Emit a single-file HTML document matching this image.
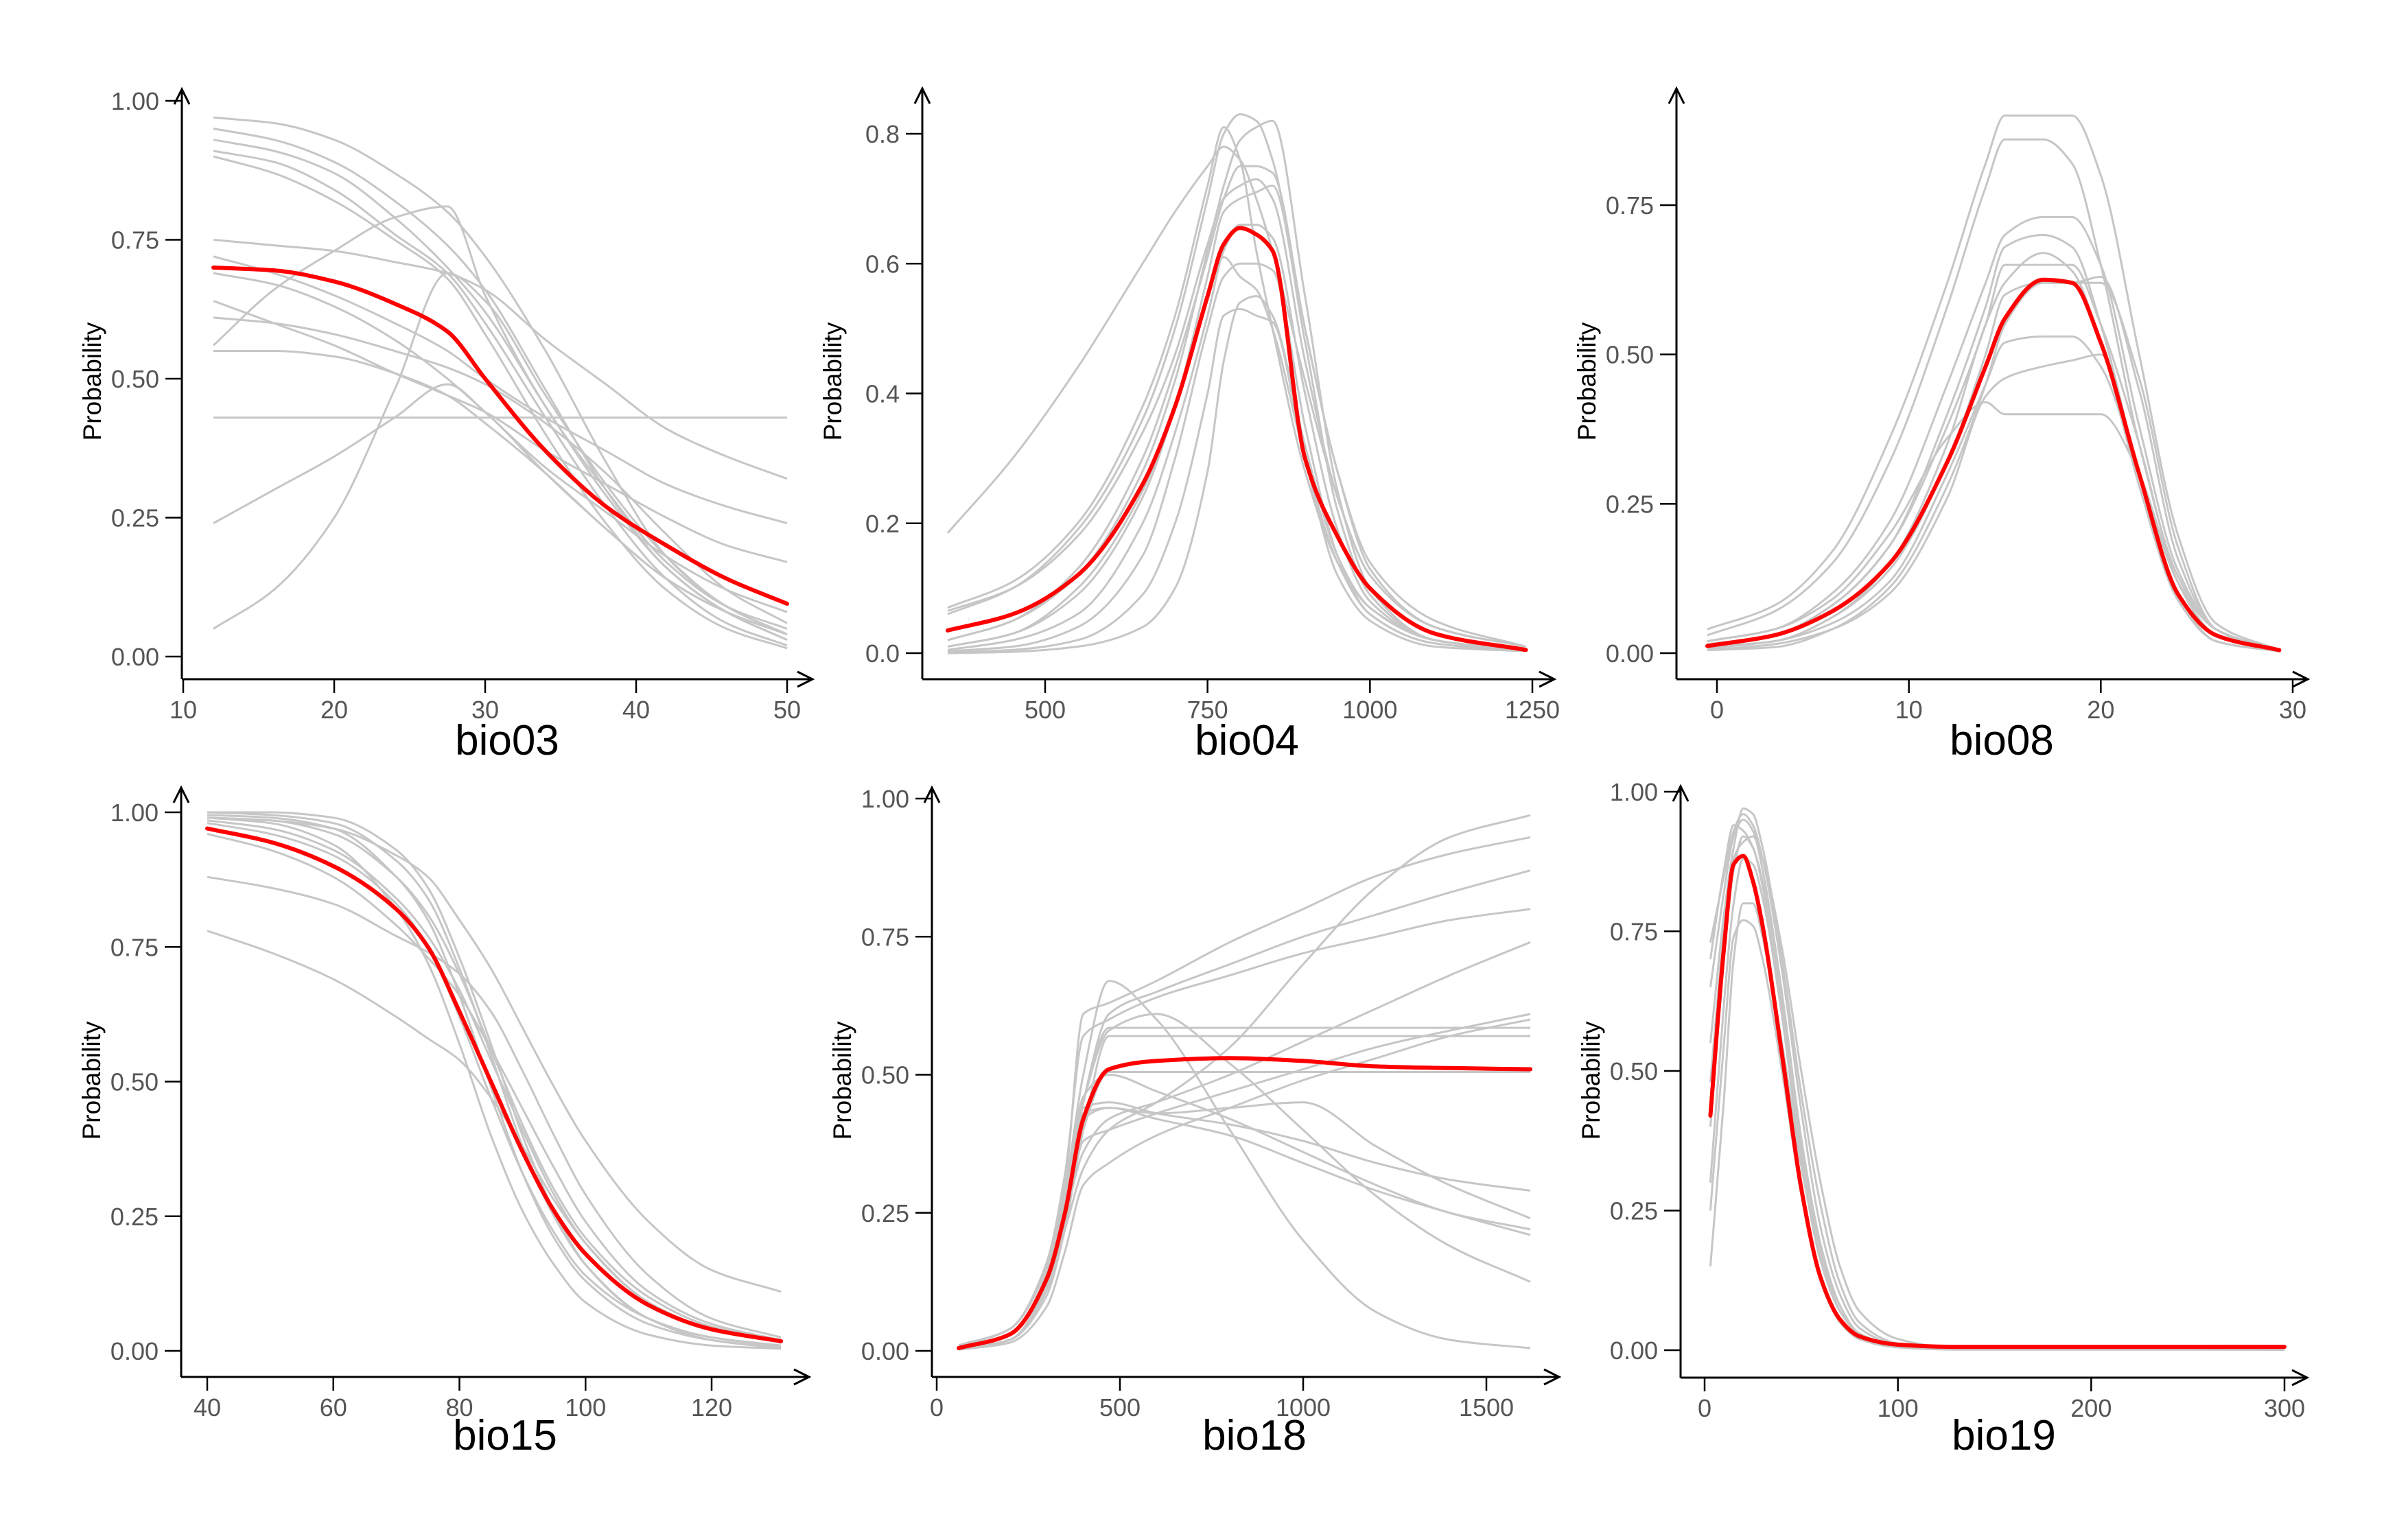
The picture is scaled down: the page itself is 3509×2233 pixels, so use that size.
<!DOCTYPE html>
<html><head><meta charset="utf-8"><style>
html,body{margin:0;padding:0;background:#fff}
svg{display:block}
text{font-family:"Liberation Sans",Arial,sans-serif}
</style></head><body>
<svg id="chart" width="3509" height="2233" viewBox="0 0 3509 2233" xmlns="http://www.w3.org/2000/svg"></svg>
<script>
// ---------- data ----------
const p1X = [12,16,20,24,27.5,30,34,38,42,46,50];
const p1Red = [0.70,0.695,0.675,0.635,0.585,0.50,0.37,0.27,0.20,0.14,0.095];
const p1Grey = [
[0.97,0.96,0.93,0.87,0.80,0.72,0.55,0.35,0.18,0.09,0.04],
[0.95,0.93,0.89,0.82,0.74,0.66,0.48,0.30,0.16,0.08,0.03],
[0.93,0.91,0.87,0.79,0.70,0.62,0.45,0.29,0.16,0.08,0.03],
[0.91,0.89,0.84,0.76,0.69,0.60,0.43,0.27,0.14,0.06,0.02],
[0.90,0.87,0.82,0.75,0.68,0.58,0.40,0.24,0.12,0.05,0.015],
[0.75,0.74,0.73,0.71,0.69,0.66,0.57,0.49,0.41,0.36,0.32],
[0.72,0.69,0.65,0.60,0.55,0.50,0.43,0.37,0.31,0.27,0.24],
[0.64,0.60,0.56,0.51,0.47,0.44,0.37,0.31,0.25,0.20,0.17],
[0.61,0.60,0.58,0.55,0.52,0.49,0.42,0.33,0.22,0.12,0.06],
[0.55,0.55,0.54,0.51,0.47,0.42,0.33,0.23,0.14,0.08,0.04],
[0.43,0.43,0.43,0.43,0.43,0.43,0.43,0.43,0.43,0.43,0.43],
[0.24,0.30,0.36,0.43,0.49,0.44,0.33,0.23,0.14,0.08,0.04],
[0.56,0.66,0.73,0.79,0.81,0.65,0.45,0.30,0.17,0.09,0.05],
[0.05,0.12,0.25,0.48,0.69,0.64,0.47,0.31,0.18,0.09,0.04],
[0.69,0.67,0.63,0.57,0.50,0.44,0.34,0.26,0.18,0.12,0.08]
];
const p2X = [350,450,550,650,700,750,775,800,825,850,900,950,1000,1100,1240];
const p2Red = [0.035,0.06,0.12,0.26,0.38,0.55,0.63,0.655,0.645,0.62,0.30,0.18,0.10,0.03,0.005];
const p2Grey = [
[0.185,0.30,0.44,0.60,0.68,0.75,0.78,0.76,0.70,0.62,0.42,0.24,0.12,0.04,0.01],
[0.07,0.11,0.20,0.38,0.52,0.72,0.81,0.76,0.62,0.50,0.28,0.14,0.07,0.02,0.005],
[0.06,0.10,0.19,0.36,0.50,0.70,0.80,0.83,0.82,0.76,0.50,0.28,0.13,0.04,0.01],
[0.02,0.05,0.12,0.28,0.42,0.62,0.72,0.79,0.81,0.82,0.55,0.25,0.10,0.02,0.005],
[0.01,0.03,0.09,0.24,0.38,0.58,0.68,0.70,0.71,0.72,0.48,0.22,0.09,0.02,0.005],
[0.005,0.02,0.06,0.20,0.34,0.52,0.62,0.66,0.66,0.64,0.40,0.19,0.08,0.02,0.005],
[0.003,0.01,0.04,0.15,0.30,0.50,0.58,0.60,0.60,0.59,0.35,0.15,0.06,0.015,0.004],
[0.001,0.005,0.02,0.09,0.20,0.40,0.52,0.53,0.52,0.51,0.30,0.12,0.05,0.01,0.003],
[0.0,0.002,0.01,0.04,0.10,0.28,0.45,0.54,0.55,0.52,0.32,0.15,0.07,0.02,0.005],
[0.065,0.10,0.18,0.34,0.46,0.63,0.70,0.72,0.73,0.70,0.45,0.24,0.12,0.04,0.01],
[0.02,0.05,0.13,0.30,0.44,0.61,0.70,0.75,0.75,0.74,0.50,0.28,0.14,0.05,0.01],
[0.01,0.03,0.10,0.25,0.38,0.55,0.61,0.58,0.56,0.50,0.30,0.14,0.06,0.015,0.004]
];
const p3X = [-0.5,3,6,9,12,14,15,17,18.5,20,22,24,26,29.3];
const p3Red = [0.012,0.03,0.07,0.15,0.32,0.48,0.56,0.625,0.62,0.52,0.30,0.10,0.03,0.005];
const p3Grey = [
[0.04,0.08,0.17,0.36,0.62,0.82,0.90,0.90,0.90,0.80,0.50,0.20,0.05,0.005],
[0.03,0.07,0.15,0.32,0.58,0.78,0.86,0.86,0.82,0.65,0.35,0.13,0.04,0.005],
[0.02,0.04,0.10,0.22,0.45,0.62,0.70,0.73,0.73,0.65,0.38,0.14,0.04,0.005],
[0.015,0.03,0.08,0.18,0.40,0.58,0.68,0.70,0.68,0.55,0.30,0.10,0.03,0.004],
[0.01,0.03,0.08,0.18,0.38,0.55,0.65,0.65,0.65,0.55,0.35,0.12,0.03,0.004],
[0.01,0.02,0.06,0.14,0.32,0.50,0.60,0.62,0.62,0.62,0.46,0.18,0.04,0.004],
[0.008,0.02,0.05,0.12,0.30,0.45,0.52,0.53,0.53,0.48,0.30,0.12,0.03,0.003],
[0.02,0.04,0.09,0.20,0.36,0.42,0.40,0.40,0.40,0.40,0.30,0.12,0.04,0.005],
[0.005,0.015,0.04,0.10,0.26,0.43,0.46,0.48,0.49,0.50,0.30,0.10,0.02,0.003],
[0.01,0.02,0.06,0.15,0.35,0.55,0.62,0.67,0.64,0.52,0.28,0.09,0.02,0.003],
[0.005,0.01,0.04,0.11,0.28,0.45,0.55,0.62,0.62,0.63,0.44,0.16,0.04,0.004]
];
const p4X = [40,50,60,70,75,80,85,90,95,100,110,120,131];
const p4Red = [0.97,0.945,0.90,0.82,0.75,0.63,0.50,0.37,0.26,0.18,0.085,0.04,0.018];
const p4Grey = [
[1.0,1.0,0.99,0.93,0.86,0.73,0.57,0.40,0.26,0.16,0.06,0.025,0.01],
[0.995,0.99,0.97,0.88,0.80,0.66,0.49,0.33,0.21,0.13,0.05,0.02,0.007],
[0.99,0.98,0.94,0.82,0.72,0.57,0.40,0.26,0.16,0.09,0.03,0.01,0.004],
[0.985,0.97,0.93,0.84,0.77,0.67,0.54,0.41,0.29,0.20,0.09,0.04,0.015],
[0.98,0.96,0.92,0.83,0.75,0.62,0.47,0.33,0.22,0.14,0.06,0.025,0.01],
[0.96,0.93,0.88,0.79,0.73,0.66,0.56,0.45,0.34,0.24,0.11,0.05,0.02],
[0.88,0.86,0.83,0.77,0.74,0.70,0.63,0.52,0.40,0.29,0.14,0.06,0.025],
[0.78,0.74,0.69,0.62,0.58,0.54,0.47,0.38,0.28,0.20,0.09,0.04,0.015],
[0.99,0.985,0.97,0.92,0.88,0.80,0.71,0.60,0.49,0.39,0.24,0.15,0.11],
[1.0,0.995,0.98,0.91,0.84,0.71,0.55,0.38,0.25,0.16,0.06,0.02,0.005],
[0.99,0.985,0.96,0.88,0.81,0.70,0.56,0.42,0.30,0.21,0.10,0.045,0.02]
];
const p5X = [60,200,300,350,400,470,600,800,1000,1200,1400,1620];
const p5Red = [0.005,0.03,0.13,0.25,0.42,0.51,0.525,0.53,0.525,0.515,0.512,0.51];
const p5Grey = [
[0.005,0.03,0.12,0.22,0.33,0.40,0.45,0.55,0.70,0.84,0.93,0.97],
[0.008,0.04,0.15,0.30,0.61,0.63,0.67,0.74,0.80,0.86,0.90,0.93],
[0.005,0.03,0.13,0.26,0.45,0.61,0.65,0.70,0.75,0.79,0.83,0.87],
[0.01,0.04,0.16,0.32,0.57,0.60,0.64,0.68,0.72,0.75,0.78,0.80],
[0.005,0.03,0.12,0.24,0.36,0.42,0.45,0.50,0.56,0.62,0.68,0.74],
[0.005,0.03,0.13,0.27,0.45,0.585,0.585,0.585,0.585,0.585,0.585,0.585],
[0.004,0.02,0.11,0.23,0.40,0.57,0.57,0.57,0.57,0.57,0.57,0.57],
[0.004,0.02,0.11,0.23,0.40,0.505,0.505,0.505,0.505,0.505,0.505,0.505],
[0.003,0.02,0.10,0.22,0.38,0.40,0.43,0.47,0.51,0.55,0.58,0.61],
[0.002,0.015,0.08,0.18,0.30,0.34,0.39,0.44,0.49,0.53,0.57,0.60],
[0.005,0.03,0.14,0.29,0.50,0.67,0.60,0.40,0.20,0.07,0.02,0.005],
[0.005,0.03,0.13,0.27,0.45,0.58,0.61,0.52,0.40,0.28,0.19,0.125],
[0.005,0.03,0.13,0.26,0.44,0.45,0.43,0.41,0.38,0.34,0.31,0.29],
[0.004,0.02,0.12,0.25,0.42,0.44,0.43,0.44,0.45,0.37,0.30,0.24],
[0.005,0.03,0.13,0.27,0.46,0.50,0.47,0.42,0.36,0.30,0.25,0.22],
[0.004,0.02,0.12,0.25,0.43,0.44,0.42,0.39,0.34,0.29,0.25,0.21]
];
const p6X = [3,10,15,20,25,30,40,50,60,70,80,100,130,300];
const p6Red = [0.42,0.72,0.87,0.885,0.84,0.76,0.53,0.29,0.13,0.055,0.025,0.01,0.006,0.006];
const p6Grey = [
[0.73,0.85,0.93,0.96,0.94,0.88,0.68,0.43,0.22,0.10,0.04,0.01,0.003,0.001],
[0.65,0.82,0.92,0.95,0.93,0.86,0.64,0.38,0.19,0.08,0.03,0.008,0.002,0.001],
[0.55,0.78,0.90,0.97,0.96,0.90,0.70,0.46,0.26,0.12,0.05,0.012,0.003,0.001],
[0.40,0.70,0.86,0.92,0.90,0.83,0.60,0.34,0.16,0.07,0.03,0.008,0.002,0.001],
[0.30,0.62,0.80,0.88,0.87,0.81,0.60,0.36,0.18,0.08,0.03,0.008,0.002,0.001],
[0.15,0.45,0.70,0.80,0.80,0.74,0.55,0.33,0.17,0.07,0.03,0.008,0.002,0.001],
[0.25,0.55,0.74,0.77,0.76,0.70,0.50,0.28,0.13,0.05,0.02,0.005,0.001,0.001],
[0.70,0.86,0.94,0.93,0.90,0.84,0.62,0.37,0.18,0.07,0.03,0.008,0.002,0.001],
[0.48,0.75,0.88,0.91,0.92,0.88,0.72,0.50,0.30,0.15,0.07,0.02,0.004,0.001]
];
const p1XTicks=[10,20,30,40,50], p1YTicks=[0,0.25,0.5,0.75,1];
const p2XTicks=[500,750,1000,1250], p2YTicks=[0,0.2,0.4,0.6,0.8];
const p3XTicks=[0,10,20,30], p3YTicks=[0,0.25,0.5,0.75];
const p4XTicks=[40,60,80,100,120], p4YTicks=[0,0.25,0.5,0.75,1];
const p5XTicks=[0,500,1000,1500], p5YTicks=[0,0.25,0.5,0.75,1];
const p6XTicks=[0,100,200,300], p6YTicks=[0,0.25,0.5,0.75,1];

// ---------- layout ----------
const panels = [
 {id:'bio03',x:p1X,red:p1Red,grey:p1Grey,xt:p1XTicks,yt:p1YTicks,yd:2,xv:[10,50],xp:[267,1147],yv:[0,1],yp:[957,147],ax:265,ay:990,top:130,end:1184,tx:739,ty:1100,py:556},
 {id:'bio04',x:p2X,red:p2Red,grey:p2Grey,xt:p2XTicks,yt:p2YTicks,yd:1,xv:[500,1250],xp:[1523,2233],yv:[0,0.8],yp:[952,195],ax:1344,ay:990,top:129,end:2265,tx:1817,ty:1100,py:556},
 {id:'bio08',x:p3X,red:p3Red,grey:p3Grey,xt:p3XTicks,yt:p3YTicks,yd:2,xv:[0,30],xp:[2502,3341],yv:[0,0.75],yp:[952,299],ax:2443,ay:990,top:129,end:3363,tx:2917,ty:1100,py:556},
 {id:'bio15',x:p4X,red:p4Red,grey:p4Grey,xt:p4XTicks,yt:p4YTicks,yd:2,xv:[40,120],xp:[302,1037],yv:[0,1],yp:[1969,1184],ax:264,ay:2007,top:1148,end:1179,tx:736,ty:2113,py:1575},
 {id:'bio18',x:p5X,red:p5Red,grey:p5Grey,xt:p5XTicks,yt:p5YTicks,yd:2,xv:[0,1500],xp:[1365,2166],yv:[0,1],yp:[1969,1164],ax:1358,ay:2007,top:1148,end:2272,tx:1828,ty:2113,py:1575},
 {id:'bio19',x:p6X,red:p6Red,grey:p6Grey,xt:p6XTicks,yt:p6YTicks,yd:2,xv:[0,300],xp:[2484,3329],yv:[0,1],yp:[1968,1154],ax:2449,ay:2008,top:1146,end:3362,tx:2920,ty:2113,py:1575}
];
const NS='http://www.w3.org/2000/svg';
const svg=document.getElementById('chart');
function mk(tag,attrs,parent){const e=document.createElementNS(NS,tag);for(const k in attrs)e.setAttribute(k,attrs[k]);parent.appendChild(e);return e;}
// monotone cubic (Fritsch-Carlson) path
function pathFor(xs,ys,sx,sy){
  const X=xs.map(sx), Y=ys.map(sy), n=X.length;
  const d=[], m=new Array(n);
  for(let i=0;i<n-1;i++) d.push((Y[i+1]-Y[i])/(X[i+1]-X[i]));
  m[0]=d[0]; m[n-1]=d[n-2];
  for(let i=1;i<n-1;i++){
    if(d[i-1]*d[i]<=0) m[i]=0;
    else { const h0=X[i]-X[i-1], h1=X[i+1]-X[i];
      const w1=2*h1+h0, w2=h1+2*h0;
      m[i]=(w1+w2)/(w1/d[i-1]+w2/d[i]); }
  }
  let s='M'+X[0].toFixed(1)+','+Y[0].toFixed(1);
  for(let i=0;i<n-1;i++){
    const h=(X[i+1]-X[i])/3;
    s+=' C'+(X[i]+h).toFixed(1)+','+(Y[i]+m[i]*h).toFixed(1)+' '+(X[i+1]-h).toFixed(1)+','+(Y[i+1]-m[i+1]*h).toFixed(1)+' '+X[i+1].toFixed(1)+','+Y[i+1].toFixed(1);
  }
  return s;
}
panels.forEach(p=>{
  const g=mk('g',{},svg);
  
  
  const sx=v=>p.xp[0]+(v-p.xv[0])*(p.xp[1]-p.xp[0])/(p.xv[1]-p.xv[0]);
  const sy=v=>p.yp[0]+(v-p.yv[0])*(p.yp[1]-p.yp[0])/(p.yv[1]-p.yv[0]);
  p.grey.forEach((ys,i)=>{
    const c=mk('path',{d:pathFor(p.x,ys,sx,sy),fill:'none',stroke:'#c6c6c6','stroke-width':3,'stroke-linejoin':'round'},g);
    
    
  });
  const r=mk('path',{d:pathFor(p.x,p.red,sx,sy),fill:'none',stroke:'#ff0000','stroke-width':6,'stroke-linejoin':'round','stroke-linecap':'round'},g);
  
  
  const ya=mk('path',{d:`M${p.ax},${p.top} L${p.ax},${p.ay} M${p.ax-11},${p.top+22} L${p.ax},${p.top} L${p.ax+11},${p.top+22}`,fill:'none',stroke:'#000','stroke-width':3},g);
  
  
  const xa=mk('path',{d:`M${p.ax},${p.ay} L${p.end},${p.ay} M${p.end-22},${p.ay-11} L${p.end},${p.ay} L${p.end-22},${p.ay+11}`,fill:'none',stroke:'#000','stroke-width':3},g);
  
  
  p.yt.forEach(v=>{
    const y=sy(v);
    const t=mk('line',{x1:p.ax-24,x2:p.ax,y1:y,y2:y,stroke:'#000','stroke-width':2.5},g);
    
    
    const l=mk('text',{x:p.ax-33,y:y+13,'text-anchor':'end','font-size':36,fill:'#555'},g);
    l.textContent=v.toFixed(p.yd);
    
    
  });
  p.xt.forEach(v=>{
    const x=sx(v);
    const t=mk('line',{x1:x,x2:x,y1:p.ay,y2:p.ay+20,stroke:'#000','stroke-width':2.5},g);
    
    
    const l=mk('text',{x:x,y:p.ay+57,'text-anchor':'middle','font-size':36,fill:'#555'},g);
    l.textContent=String(v);
    
    
  });
  const yl=mk('text',{x:0,y:0,'text-anchor':'middle','font-size':37,fill:'#000',transform:`translate(${p.ax-118},${p.py}) rotate(-90)`},g);
  yl.textContent='Probability';
  
  
  const xl=mk('text',{x:p.tx,y:p.ty,'text-anchor':'middle','font-size':62,fill:'#000'},g);
  xl.textContent=p.id;
  
  
});
</script>
</body></html>
